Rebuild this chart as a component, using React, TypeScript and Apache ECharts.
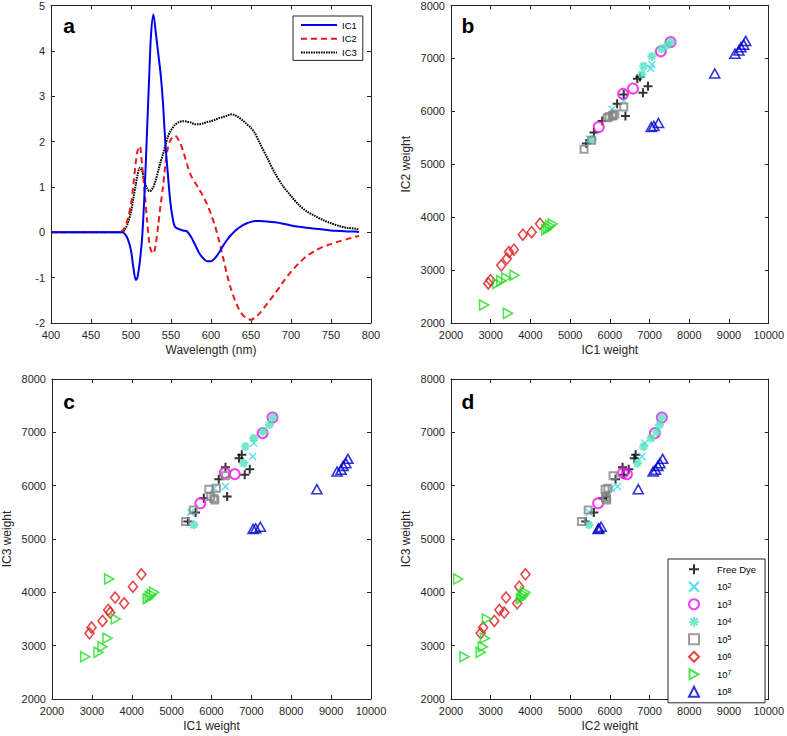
import React, { useEffect, useRef } from "react";
import * as echarts from "echarts";

// ---------- Panel a: spectra ----------
const wavelength = [
  400, 440, 480, 488, 492, 496, 500, 503, 506, 508, 511, 514, 517, 520, 523, 525, 528, 531, 534, 537,
  540, 543, 546, 549, 552, 555, 560, 565, 570, 575, 580, 585, 590, 595, 600, 605, 610, 615, 620, 625,
  630, 635, 640, 645, 650, 655, 660, 670, 680, 690, 700, 710, 720, 730, 740, 750, 760, 770, 780, 785,
];
const ic1Spectrum = [
  0, 0, 0, 0, -0.03, -0.15, -0.4, -0.78, -1.05, -1.0, -0.65, -0.1, 0.9, 2.2, 3.55, 4.35, 4.8, 4.4, 3.95, 3.5,
  2.85, 1.95, 1.3, 0.7, 0.32, 0.12, 0.07, 0.04, 0.02, -0.1, -0.27, -0.45, -0.57, -0.64, -0.64, -0.57, -0.45, -0.3, -0.17, -0.06,
  0.03, 0.1, 0.16, 0.2, 0.23, 0.25, 0.25, 0.24, 0.22, 0.19, 0.15, 0.12, 0.1, 0.08, 0.06, 0.04, 0.03, 0.02, 0.02, 0.0,
];
const ic2Spectrum = [
  0, 0, 0, 0.02, 0.1, 0.3, 0.62, 1.05, 1.55, 1.78, 1.9, 1.45, 0.9, 0.28, -0.25, -0.4, -0.47, -0.25, 0.15, 0.6,
  1.0, 1.5, 1.85, 2.02, 2.1, 2.13, 2.02, 1.8, 1.5, 1.25, 1.1, 0.95, 0.8, 0.62, 0.4, 0.14, -0.18, -0.55, -0.93, -1.25,
  -1.5, -1.7, -1.83, -1.9, -1.93, -1.88, -1.8, -1.58, -1.35, -1.1, -0.87, -0.68, -0.52, -0.41, -0.32, -0.26, -0.2, -0.15, -0.1, -0.08,
];
const ic3Spectrum = [
  0, 0, 0, 0, 0.05, 0.2, 0.45, 0.75, 1.05, 1.25, 1.42, 1.35, 1.12, 0.97, 0.91, 0.92, 1.0, 1.15, 1.35, 1.55,
  1.72, 1.92, 2.1, 2.22, 2.3, 2.37, 2.43, 2.45, 2.44, 2.42, 2.38, 2.38, 2.4, 2.43, 2.45, 2.48, 2.52, 2.54, 2.57, 2.6,
  2.58, 2.53, 2.46, 2.38, 2.3, 2.18, 2.0, 1.65, 1.3, 1.02, 0.8, 0.6, 0.46, 0.36, 0.27, 0.2, 0.14, 0.1, 0.08, 0.06,
];
const spectrumNames = ["IC1", "IC2", "IC3"];

// ---------- Panels b-d: weights per sample group ----------
const groupNames = ["Free Dye", "10^2", "10^3", "10^4", "10^5", "10^6", "10^7", "10^8"];

const freeDyeIC1 = [6692, 6760, 6350, 6183, 6392, 6960, 6833, 5808, 5600, 5408];
const freeDyeIC2 = [6614, 6650, 6320, 6143, 5912, 6476, 6350, 5818, 5598, 5391];
const freeDyeIC3 = [6516, 6578, 6347, 6122, 5795, 6310, 6203, 5766, 5495, 5327];

const e2IC1 = [7060, 7030, 6350, 6058, 5480];
const e2IC2 = [6884, 6810, 6194, 6038, 5480];
const e2IC3 = [6797, 6546, 5983, 5950, 5500];

const e3IC1 = [7530, 7283, 6583, 6333, 5720];
const e3IC2 = [7310, 7134, 6430, 6330, 5705];
const e3IC3 = [7278, 6985, 6216, 6240, 5671];

const e4IC1 = [7540, 7450, 7300, 7058, 6850, 6808, 5558];
const e4IC2 = [7310, 7250, 7180, 7040, 6852, 6696, 5474];
const e4IC3 = [7280, 7141, 7010, 6891, 6734, 6420, 5265];

const e5IC1 = [5350, 5542, 5933, 6058, 6125, 5980, 6083, 6350];
const e5IC2 = [5285, 5455, 5880, 5912, 5950, 5900, 5920, 6081];
const e5IC3 = [5327, 5546, 5934, 5760, 5953, 5795, 5733, 6184];

const e6IC1 = [4242, 4030, 3808, 3583, 3460, 3408, 3267, 2992, 2940];
const e6IC2 = [3875, 3717, 3668, 3386, 3341, 3217, 3091, 2809, 2747];
const e6IC3 = [4339, 4107, 3795, 3901, 3620, 3670, 3463, 3340, 3232];

const e7IC1 = [2833, 3433, 3167, 3267, 3392, 3600, 4400, 4450, 4500, 4560];
const e7IC2 = [2339, 2182, 2747, 2800, 2852, 2903, 3760, 3800, 3840, 3870];
const e7IC3 = [2793, 4251, 2876, 2981, 3139, 3501, 3880, 3920, 3960, 4000];

const e8IC1 = [9150, 9250, 9300, 9370, 9420, 8642, 7042, 7108, 7225];
const e8IC2 = [7090, 7150, 7210, 7260, 7330, 6715, 5705, 5725, 5780];
const e8IC3 = [6265, 6300, 6371, 6422, 6503, 5934, 5190, 5200, 5230];

const groupData = [
  [freeDyeIC1, freeDyeIC2, freeDyeIC3],
  [e2IC1, e2IC2, e2IC3],
  [e3IC1, e3IC2, e3IC3],
  [e4IC1, e4IC2, e4IC3],
  [e5IC1, e5IC2, e5IC3],
  [e6IC1, e6IC2, e6IC3],
  [e7IC1, e7IC2, e7IC3],
  [e8IC1, e8IC2, e8IC3],
];

// ---------- styles ----------
const FONT = "'Liberation Sans', Arial, Helvetica, sans-serif";
const AX = "#262626";

const PLUS = "path://M5,0 L5,10 M0,5 L10,5";
const CROSS = "path://M0,0 L10,10 M10,0 L0,10";
const STAR = "path://M5,0 L5,10 M0,5 L10,5 M1.5,1.5 L8.5,8.5 M8.5,1.5 L1.5,8.5";
const RIGHT_TRI = "path://M0,0 L9,5 L0,10 Z";

const groupStyles = [
  { symbol: PLUS, size: 9, color: "#000000", lw: 2 },
  { symbol: CROSS, size: 7, color: "#22d8ee", lw: 1.3 },
  { symbol: "circle", size: 10, color: "#ee11ee", lw: 2 },
  { symbol: STAR, size: 9, color: "#4fe2bc", lw: 2.2 },
  { symbol: "rect", size: 7, color: "#858585", lw: 2 },
  { symbol: "diamond", size: [9, 11], color: "#dd1818", lw: 1.6 },
  { symbol: RIGHT_TRI, size: [9, 10], color: "#22dd22", lw: 1.6 },
  { symbol: "triangle", size: [10, 9], color: "#0000d0", lw: 1.6 },
];

const grids = [
  { left: 51, top: 4, width: 320, height: 319 },
  { left: 451, top: 4, width: 320, height: 319 },
  { left: 51, top: 379, width: 320, height: 320 },
  { left: 451, top: 379, width: 320, height: 320 },
];

const axisLineStyle = { color: AX, width: 1 };
const plain = (v: number) => String(v);

function xAxes(gi: number, min: number, max: number, interval: number, name: string) {
  return [
    {
      type: "value", gridIndex: gi, min, max, interval, position: "bottom",
      name, nameLocation: "middle", nameGap: 21,
      nameTextStyle: { fontFamily: FONT, fontSize: 12, color: AX },
      axisLine: { show: true, onZero: false, lineStyle: axisLineStyle },
      axisTick: { show: true, inside: true, length: 4, lineStyle: axisLineStyle },
      axisLabel: { show: true, fontFamily: FONT, fontSize: 11, color: AX, margin: 6, showMinLabel: true, showMaxLabel: true, formatter: plain },
      splitLine: { show: false },
    },
    {
      type: "value", gridIndex: gi, min, max, interval, position: "top",
      axisLine: { show: true, onZero: false, lineStyle: axisLineStyle },
      axisTick: { show: true, inside: true, length: 4, lineStyle: axisLineStyle },
      axisLabel: { show: false },
      splitLine: { show: false },
    },
  ];
}

function yAxes(gi: number, min: number, max: number, interval: number, name: string) {
  return [
    {
      type: "value", gridIndex: gi, min, max, interval, position: "left",
      name, nameLocation: "middle", nameGap: 39, nameRotate: 90,
      nameTextStyle: { fontFamily: FONT, fontSize: 12, color: AX },
      axisLine: { show: true, onZero: false, lineStyle: axisLineStyle },
      axisTick: { show: true, inside: true, length: 4, lineStyle: axisLineStyle },
      axisLabel: { show: true, fontFamily: FONT, fontSize: 11, color: AX, margin: 6, showMinLabel: true, showMaxLabel: true, formatter: plain },
      splitLine: { show: false },
    },
    {
      type: "value", gridIndex: gi, min, max, interval, position: "right",
      axisLine: { show: true, onZero: false, lineStyle: axisLineStyle },
      axisTick: { show: true, inside: true, length: 4, lineStyle: axisLineStyle },
      axisLabel: { show: false },
      splitLine: { show: false },
    },
  ];
}

function buildOption() {
  const xAxis = [
    ...xAxes(0, 400, 800, 50, "Wavelength (nm)"),
    ...xAxes(1, 2000, 10000, 1000, "IC1 weight"),
    ...xAxes(2, 2000, 10000, 1000, "IC1 weight"),
    ...xAxes(3, 2000, 10000, 1000, "IC2 weight"),
  ];
  const yAxis = [
    ...yAxes(0, -2, 5, 1, ""),
    ...yAxes(1, 2000, 8000, 1000, "IC2 weight"),
    ...yAxes(2, 2000, 8000, 1000, "IC3 weight"),
    ...yAxes(3, 2000, 8000, 1000, "IC3 weight"),
  ];

  const spectra = [ic1Spectrum, ic2Spectrum, ic3Spectrum];
  const lineStyles = [
    { color: "#0000ee", width: 2, type: "solid" as any },
    { color: "#e61c1c", width: 2, type: [6, 4] as any },
    { color: "#000000", width: 2, type: [1.6, 0.9] as any },
  ];
  const series: any[] = spectra.map((vals, i) => ({
    type: "line",
    name: spectrumNames[i],
    xAxisIndex: 0,
    yAxisIndex: 0,
    data: wavelength.map((w, k) => [w, vals[k]]),
    symbol: "none",
    smooth: 0.3,
    lineStyle: lineStyles[i],
    itemStyle: { color: "rgba(0,0,0,0)", borderWidth: 0 },
    z: 3 - i,
  }));

  const panels = [
    { gi: 1, xi: 0, yi: 1 },
    { gi: 2, xi: 0, yi: 2 },
    { gi: 3, xi: 1, yi: 2 },
  ];
  panels.forEach((p) => {
    groupNames.forEach((name, g) => {
      const st = groupStyles[g];
      const d = groupData[g];
      series.push({
        type: "scatter",
        name,
        xAxisIndex: p.gi * 2,
        yAxisIndex: p.gi * 2,
        data: d[p.xi].map((v, k) => [v, d[p.yi][k]]),
        symbol: st.symbol,
        symbolSize: st.size,
        itemStyle: { color: "rgba(0,0,0,0)", borderColor: st.color, borderWidth: st.lw },
        emphasis: { disabled: true },
      });
    });
  });

  const legendText = { fontFamily: FONT, fontSize: 9.5, color: "#000", lineHeight: 10 };

  return {
    animation: false,
    backgroundColor: "#ffffff",
    grid: grids.map((g) => ({ ...g, containLabel: false })),
    xAxis,
    yAxis,
    series,
    legend: [
      {
        data: spectrumNames,
        orient: "vertical",
        left: 293,
        top: 16,
        itemWidth: 36,
        itemHeight: 10,
        itemGap: 3.7,
        padding: [4, 6, 3, 7],
        borderColor: AX,
        borderWidth: 1,
        backgroundColor: "#ffffff",
        selectedMode: false,
        itemStyle: { color: "rgba(0,0,0,0)", borderWidth: 0, opacity: 0 },
        textStyle: legendText,
      },
      {
        data: groupNames,
        orient: "vertical",
        left: 668,
        top: 559,
        itemWidth: 10,
        itemHeight: 10,
        itemGap: 5.5,
        padding: [4.3, 9, 5, 20],
        borderColor: AX,
        borderWidth: 1,
        backgroundColor: "#ffffff",
        selectedMode: false,
        formatter: (name: string) =>
          name.startsWith("10^") ? `{b|10}{s|${name.slice(3)}}` : `{b|${name}}`,
        textStyle: {
          ...legendText,
          padding: [0, 0, 0, 13],
          rich: {
            b: { fontFamily: FONT, fontSize: 9.5, color: "#000", lineHeight: 10 },
            s: { fontFamily: FONT, fontSize: 7, color: "#000", lineHeight: 5, verticalAlign: "top" },
          },
        },
      },
    ],
    graphic: [
      { type: "text", x: 69, y: 25, style: { text: "a", fontFamily: FONT, fontWeight: "bold", fontSize: 21, fill: "#000", align: "center", verticalAlign: "middle" } },
      { type: "text", x: 468, y: 25, style: { text: "b", fontFamily: FONT, fontWeight: "bold", fontSize: 21, fill: "#000", align: "center", verticalAlign: "middle" } },
      { type: "text", x: 69, y: 401, style: { text: "c", fontFamily: FONT, fontWeight: "bold", fontSize: 21, fill: "#000", align: "center", verticalAlign: "middle" } },
      { type: "text", x: 468, y: 401, style: { text: "d", fontFamily: FONT, fontWeight: "bold", fontSize: 21, fill: "#000", align: "center", verticalAlign: "middle" } },
    ],
  };
}

export default function App() {
  const ref = useRef<HTMLDivElement>(null);
  useEffect(() => {
    if (!ref.current) return;
    const chart = echarts.init(ref.current, undefined, { renderer: "svg" });
    chart.setOption(buildOption() as any);
    return () => chart.dispose();
  }, []);
  return (
    <div
      ref={ref}
      style={{ position: "absolute", left: 0, top: 0, width: 787, height: 736, background: "#fff" }}
    />
  );
}
